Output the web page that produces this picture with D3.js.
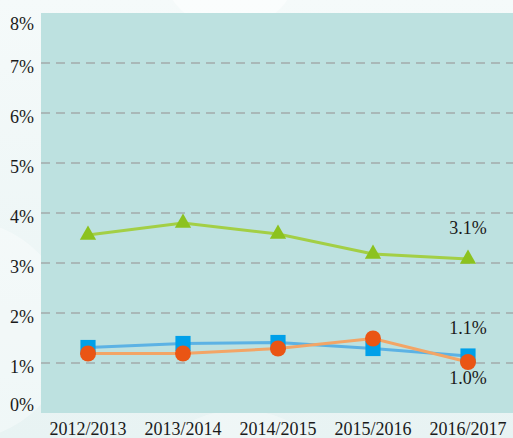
<!DOCTYPE html>
<html>
<head>
<meta charset="utf-8">
<script src="https://cdn.jsdelivr.net/npm/d3@7"></script>
<style>
html,body{margin:0;padding:0;background:#eef6f6;}
svg{display:block;}
</style>
</head>
<body>
<svg id="chart" width="513" height="438"></svg>
<script>
const categories = ["2012/2013","2013/2014","2014/2015","2015/2016","2016/2017"];
const greenValues  = [3.56, 3.80, 3.58, 3.18, 3.08];
const blueValues   = [1.31, 1.39, 1.41, 1.29, 1.14];
const orangeValues = [1.19, 1.19, 1.29, 1.49, 1.02];
const yTicks = [0,1,2,3,4,5,6,7,8];
const gridTicks = [1,2,3,4,5,6,7];
const endLabels = [
  {text:"3.1%", value:3.70},
  {text:"1.1%", value:1.70},
  {text:"1.0%", value:0.70}
];

const W = 513, H = 438;
const plot = {left:41, right:513, top:13, bottom:413};
const svg = d3.select("#chart");

// outer background
const defs = svg.append("defs");
const bg = defs.append("linearGradient").attr("id","bgGrad").attr("x1",0).attr("y1",0).attr("x2",0).attr("y2",1);
bg.append("stop").attr("offset","0%").attr("stop-color","#f5fafa");
bg.append("stop").attr("offset","100%").attr("stop-color","#e8f3f3");
svg.append("rect").attr("width",W).attr("height",H).attr("fill","url(#bgGrad)");
svg.append("circle").attr("cx",-40).attr("cy",330).attr("r",110).attr("fill","#ffffff").attr("opacity",0.35);
svg.append("circle").attr("cx",230).attr("cy",-40).attr("r",70).attr("fill","#ffffff").attr("opacity",0.5);
svg.append("circle").attr("cx",240).attr("cy",520).attr("r",110).attr("fill","#ffffff").attr("opacity",0.3);

const x = d3.scalePoint().domain(categories).range([88, 468]);
const y = d3.scaleLinear().domain([0,8]).range([plot.bottom, plot.top]);

// plot area
svg.append("rect")
  .attr("x",plot.left).attr("y",plot.top)
  .attr("width",plot.right-plot.left).attr("height",plot.bottom-plot.top)
  .attr("fill","#bde1e0");

// grid
svg.append("g").selectAll("line").data(gridTicks).join("line")
  .attr("x1",plot.left).attr("x2",plot.right)
  .attr("y1",d=>y(d)).attr("y2",d=>y(d))
  .attr("stroke","#a3abab").attr("stroke-width",1.5)
  .attr("stroke-dasharray","9,6");

// y labels
svg.append("g").selectAll("text").data(yTicks).join("text")
  .attr("x",34)
  .attr("y",d=>{ let p=y(d)+3.5; if(d===8) p=y(d)+11; if(d===0) p=y(d)-8; return p; })
  .attr("text-anchor","end")
  .attr("dominant-baseline","central")
  .attr("font-family","'Liberation Serif', 'Times New Roman', serif")
  .attr("font-size",18).attr("fill","#1a1a1a")
  .text(d=>d+"%");

// x labels
svg.append("g").selectAll("text").data(categories).join("text")
  .attr("x",d=>x(d)).attr("y",435)
  .attr("text-anchor","middle")
  .attr("font-family","'Liberation Serif', 'Times New Roman', serif")
  .attr("font-size",18).attr("fill","#1a1a1a")
  .text(d=>d);

const line = d3.line().x((d,i)=>x(categories[i])).y(d=>y(d));

const series = [
  {vals:greenValues, line:"#a3cf45", mark:"#8cc21f", type:"tri"},
  {vals:blueValues, line:"#5cb2e4", mark:"#00a0e9", type:"sq"},
  {vals:orangeValues, line:"#f3a566", mark:"#ea5514", type:"circ"}
];

series.forEach(s=>{
  svg.append("path").datum(s.vals).attr("d",line)
    .attr("fill","none").attr("stroke",s.line).attr("stroke-width",3);
});

series.forEach(s=>{
  const g = svg.append("g");
  if(s.type==="circ"){
    g.selectAll("circle").data(s.vals).join("circle")
      .attr("cx",(d,i)=>x(categories[i])).attr("cy",d=>y(d)).attr("r",8)
      .attr("fill",s.mark);
  } else {
    const sym = d3.symbol().type(s.type==="tri"?d3.symbolTriangle:d3.symbolSquare).size(s.type==="tri"?115:230);
    g.selectAll("path").data(s.vals).join("path")
      .attr("transform",(d,i)=>`translate(${x(categories[i])},${y(d)})`)
      .attr("d",sym).attr("fill",s.mark);
  }
});

// end labels
svg.append("g").selectAll("text").data(endLabels).join("text")
  .attr("x",x(categories[4])).attr("y",d=>y(d.value))
  .attr("text-anchor","middle")
  .attr("dominant-baseline","central")
  .attr("font-family","'Liberation Serif', 'Times New Roman', serif")
  .attr("font-size",18).attr("fill","#1a1a1a")
  .text(d=>d.text);
</script>
</body>
</html>
